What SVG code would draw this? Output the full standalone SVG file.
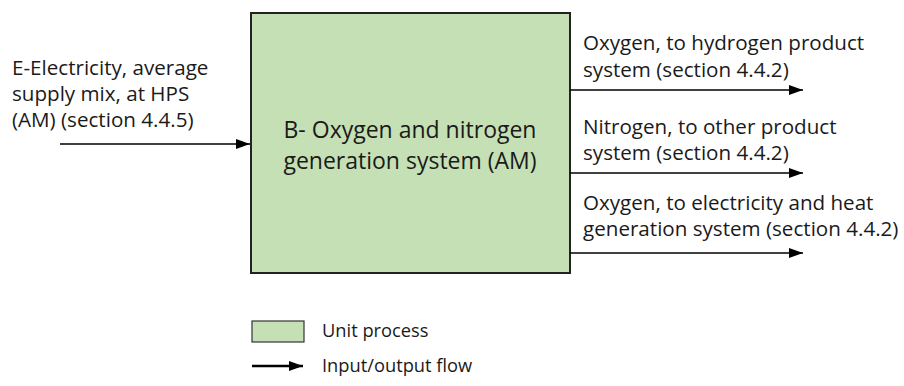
<svg xmlns="http://www.w3.org/2000/svg" width="904" height="386" viewBox="0 0 904 386">
<style>
text{font-family:"Open Sans","Liberation Sans",Arial,sans-serif;fill:#1a1a1a}
.lbl{font-size:20.6px}
.mid{font-size:23px;text-anchor:middle}
.leg{font-size:18.3px}
.flow{stroke:#000;stroke-width:1.5;fill:none;marker-end:url(#ah)}
</style>
<defs>
<marker id="ah" viewBox="0 0 14 10" refX="14" refY="5" markerWidth="14" markerHeight="10" markerUnits="userSpaceOnUse" orient="auto">
<path d="M0,0 L14,5 L0,10 Z" fill="#000"/>
</marker>
</defs>
<rect width="904" height="386" fill="#fff"/>
<g id="unit-process">
<rect x="251" y="13" width="319" height="260" fill="#c5e0b4" stroke="#222" stroke-width="2"/>
<text class="mid" x="410" y="138">B- Oxygen and nitrogen</text>
<text class="mid" x="410" y="169">generation system (AM)</text>
</g>
<g id="connectors">
<line class="flow" x1="60" y1="144" x2="250" y2="144"/>
<line class="flow" x1="570" y1="90" x2="803" y2="90"/>
<line class="flow" x1="570" y1="173" x2="803" y2="173"/>
<line class="flow" x1="570" y1="253" x2="803" y2="253"/>
</g>
<g id="input-label">
<text class="lbl" x="12" y="75">E-Electricity, average</text>
<text class="lbl" x="12" y="101">supply mix, at HPS</text>
<text class="lbl" x="12" y="127">(AM) (section 4.4.5)</text>
</g>
<g id="output-1">
<text class="lbl" x="583" y="50">Oxygen, to hydrogen product</text>
<text class="lbl" x="583" y="76.5">system (section 4.4.2)</text>
</g>
<g id="output-2">
<text class="lbl" x="583" y="134">Nitrogen, to other product</text>
<text class="lbl" x="583" y="160">system (section 4.4.2)</text>
</g>
<g id="output-3">
<text class="lbl" x="583" y="210">Oxygen, to electricity and heat</text>
<text class="lbl" x="583" y="236">generation system (section 4.4.2)</text>
</g>
<g id="legend">
<rect x="252" y="321" width="52" height="21" fill="#c5e0b4" stroke="#333" stroke-width="1.2"/>
<text class="leg" x="322" y="337">Unit process</text>
<line class="flow" x1="252" y1="366" x2="303" y2="366" style="stroke-width:2.5"/>
<text class="leg" x="322" y="372">Input/output flow</text>
</g>
</svg>
